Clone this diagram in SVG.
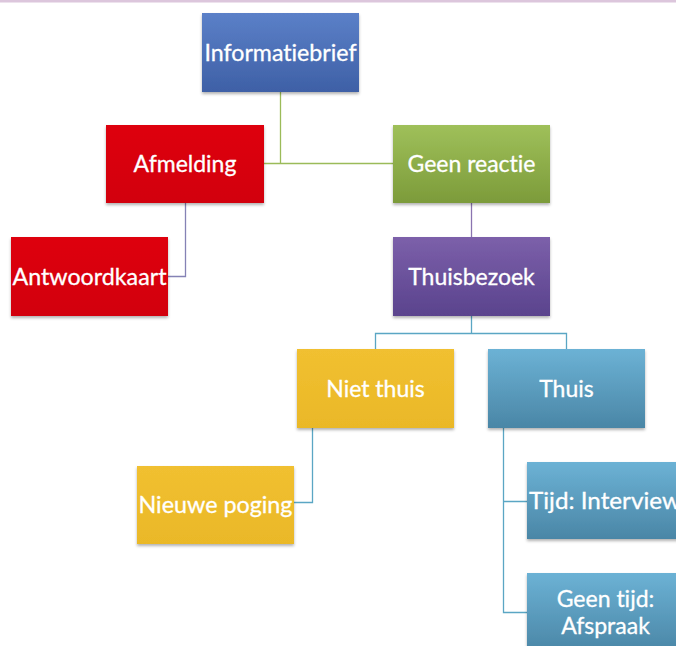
<svg xmlns="http://www.w3.org/2000/svg" width="676" height="646" viewBox="0 0 676 646">
<defs>
<linearGradient id="gBlue" x1="0" y1="0" x2="0" y2="1"><stop offset="0" stop-color="#5b80c8"/><stop offset="1" stop-color="#3e60a6"/></linearGradient>
<linearGradient id="gRed" x1="0" y1="0" x2="0" y2="1"><stop offset="0" stop-color="#de0010"/><stop offset="1" stop-color="#d2000e"/></linearGradient>
<linearGradient id="gGreen" x1="0" y1="0" x2="0" y2="1"><stop offset="0" stop-color="#9fc05a"/><stop offset="1" stop-color="#7c9b3a"/></linearGradient>
<linearGradient id="gPurple" x1="0" y1="0" x2="0" y2="1"><stop offset="0" stop-color="#7c60aa"/><stop offset="1" stop-color="#5a438d"/></linearGradient>
<linearGradient id="gYellow" x1="0" y1="0" x2="0" y2="1"><stop offset="0" stop-color="#f1c030"/><stop offset="1" stop-color="#eab828"/></linearGradient>
<linearGradient id="gTeal" x1="0" y1="0" x2="0" y2="1"><stop offset="0" stop-color="#6cb2d5"/><stop offset="1" stop-color="#4a86a6"/></linearGradient>
<filter id="sh" x="-10%" y="-10%" width="120%" height="130%"><feDropShadow dx="0" dy="2" stdDeviation="1.5" flood-color="#000" flood-opacity="0.3"/></filter>
</defs>
<style>
.box{filter:url(#sh)}
.t{font-family:Lato,"Open Sans","Liberation Sans",sans-serif;font-size:23px;fill:#fff;text-anchor:middle;font-variant-ligatures:none;stroke:#fff;stroke-width:0.3}
.c{fill:none;stroke-width:1.3}
</style>
<rect x="0" y="0" width="676" height="2.5" fill="#dcc6dc"/>
<g id="connectors">
<path class="c" stroke="#9bbb59" d="M280.5 92V163.5M264 163.5H393"/>
<path class="c" stroke="#8582b5" d="M185.5 203V276.5H168"/>
<path class="c" stroke="#8a74b0" d="M471.5 203V237"/>
<path class="c" stroke="#5aa6c4" d="M471.5 316V333.5M375.5 349V333.5H566.5V349"/>
<path class="c" stroke="#5aa6c4" d="M312.5 428V502.5H294"/>
<path class="c" stroke="#5aa6c4" d="M503.5 428V612.5H527M503.5 501.5H527"/>
</g>
<g id="informatiebrief"><rect class="box" x="202" y="13" width="157" height="79" fill="url(#gBlue)"/><text class="t" x="280.5" y="61" textLength="152" lengthAdjust="spacingAndGlyphs">Informatiebrief</text></g>
<g id="afmelding"><rect class="box" x="106" y="125" width="158" height="78" fill="url(#gRed)"/><text class="t" x="185" y="172">Afmelding</text></g>
<g id="antwoordkaart"><rect class="box" x="11" y="237" width="157" height="79" fill="url(#gRed)"/><text class="t" x="89.5" y="285" textLength="154" lengthAdjust="spacingAndGlyphs">Antwoordkaart</text></g>
<g id="geen-reactie"><rect class="box" x="393" y="125" width="157" height="78" fill="url(#gGreen)"/><text class="t" x="471.5" y="172">Geen reactie</text></g>
<g id="thuisbezoek"><rect class="box" x="393" y="237" width="157" height="79" fill="url(#gPurple)"/><text class="t" x="471.5" y="285">Thuisbezoek</text></g>
<g id="niet-thuis"><rect class="box" x="297" y="349" width="157" height="79" fill="url(#gYellow)"/><text class="t" x="375.5" y="397">Niet thuis</text></g>
<g id="thuis"><rect class="box" x="488" y="349" width="157" height="79" fill="url(#gTeal)"/><text class="t" x="566.5" y="397">Thuis</text></g>
<g id="nieuwe-poging"><rect class="box" x="137" y="466" width="157" height="78" fill="url(#gYellow)"/><text class="t" x="215.5" y="513" textLength="154" lengthAdjust="spacingAndGlyphs">Nieuwe poging</text></g>
<g id="tijd-interview"><rect class="box" x="527" y="462" width="157" height="77" fill="url(#gTeal)"/><text class="t" x="529" y="509" style="text-anchor:start" textLength="152" lengthAdjust="spacingAndGlyphs">Tijd: Interview</text></g>
<g id="geen-tijd-afspraak"><rect class="box" x="527" y="573" width="157" height="79" fill="url(#gTeal)"/><text class="t" x="605.5" y="607">Geen tijd:</text><text class="t" x="605.5" y="634">Afspraak</text></g>
</svg>
